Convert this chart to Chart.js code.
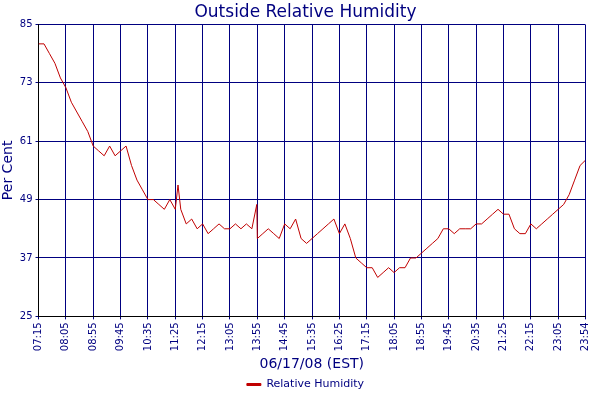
<!DOCTYPE html><html><head><script src="https://cdn.jsdelivr.net/npm/chart.js@4"></script>
<style>body{margin:0;background:#fff}#w{width:600px;height:400px}</style></head><body><div id="w"><canvas id="c"></canvas></div>
<script>
const times=["07:15","07:25","07:35","07:45","07:55","08:05","08:15","08:25","08:35","08:45","08:55","09:05","09:15","09:25","09:35","09:45","09:55","10:05","10:15","10:25","10:35","10:45","10:55","11:05","11:15","11:25","11:30","11:35","11:45","11:55","12:05","12:15","12:25","12:35","12:45","12:55","13:05","13:15","13:25","13:35","13:45","13:54","13:55","14:05","14:15","14:25","14:35","14:45","14:55","15:05","15:15","15:25","15:35","15:45","15:55","16:05","16:15","16:25","16:35","16:45","16:55","17:05","17:15","17:25","17:35","17:45","17:55","18:05","18:15","18:25","18:35","18:45","18:55","19:05","19:15","19:25","19:35","19:45","19:55","20:05","20:15","20:25","20:35","20:45","20:55","21:05","21:15","21:25","21:35","21:45","21:55","22:05","22:15","22:25","22:35","22:45","22:55","23:05","23:15","23:25","23:35","23:45","23:54"];
const humidity=[81,81,79,77,74,72,69,67,65,63,60,59,58,60,58,59,60,56,53,51,49,49,48,47,49,47,52,47,44,45,43,44,42,43,44,43,43,44,43,44,43,48,41,42,43,42,41,44,43,45,41,40,41,42,43,44,45,42,44,41,37,36,35,35,33,34,35,34,35,35,37,37,38,39,40,41,43,43,42,43,43,43,44,44,45,46,47,46,46,43,42,42,44,43,44,45,46,47,48,50,53,56,57];
const yTicks=[25,37,49,61,73,85];
const toMin=t=>{const [h,m]=t.split(':').map(Number);return h*60+m;};
const fmt=m=>String(Math.floor(m/60)).padStart(2,'0')+':'+String(m%60).padStart(2,'0');
const navy='#000080';
new Chart(document.getElementById('c'),{type:'line',
data:{datasets:[{label:'Relative Humidity',data:times.map((t,i)=>({x:toMin(t),y:humidity[i]})),borderColor:'#c00000',backgroundColor:'#c00000',borderWidth:1,pointRadius:0,tension:0}]},
options:{responsive:true,maintainAspectRatio:false,animation:false,
layout:{padding:{right:-11,top:2}},
plugins:{title:{display:true,text:'Outside Relative Humidity',color:navy,font:{family:'Verdana, DejaVu Sans',size:17,weight:'normal'},padding:{top:0,bottom:2}},
legend:{position:'bottom',labels:{color:navy,font:{family:'DejaVu Sans',size:11},boxWidth:14,boxHeight:2,padding:6}},tooltip:{enabled:false}},
scales:{
x:{type:'linear',min:435,max:1434,
afterBuildTicks:a=>{const t=[];for(let m=435;m<1434;m+=50)t.push({value:m});t.push({value:1434});a.ticks=t;},
ticks:{color:navy,font:{family:'DejaVu Sans',size:10},maxRotation:90,minRotation:90,autoSkip:false,callback:v=>fmt(v)},
grid:{color:navy,drawTicks:true,tickLength:3},border:{color:'#000'},
title:{display:true,text:'06/17/08 (EST)',color:navy,font:{family:'DejaVu Sans',size:14},padding:{top:2,bottom:0}}},
y:{min:25,max:85,afterBuildTicks:a=>{a.ticks=yTicks.map(v=>({value:v}));},
ticks:{color:navy,font:{family:'DejaVu Sans',size:10}},
grid:{color:navy,tickLength:3},border:{color:'#000'},
title:{display:true,text:'Per Cent',color:navy,font:{family:'DejaVu Sans',size:14},padding:0}}}}});
</script></body></html>
